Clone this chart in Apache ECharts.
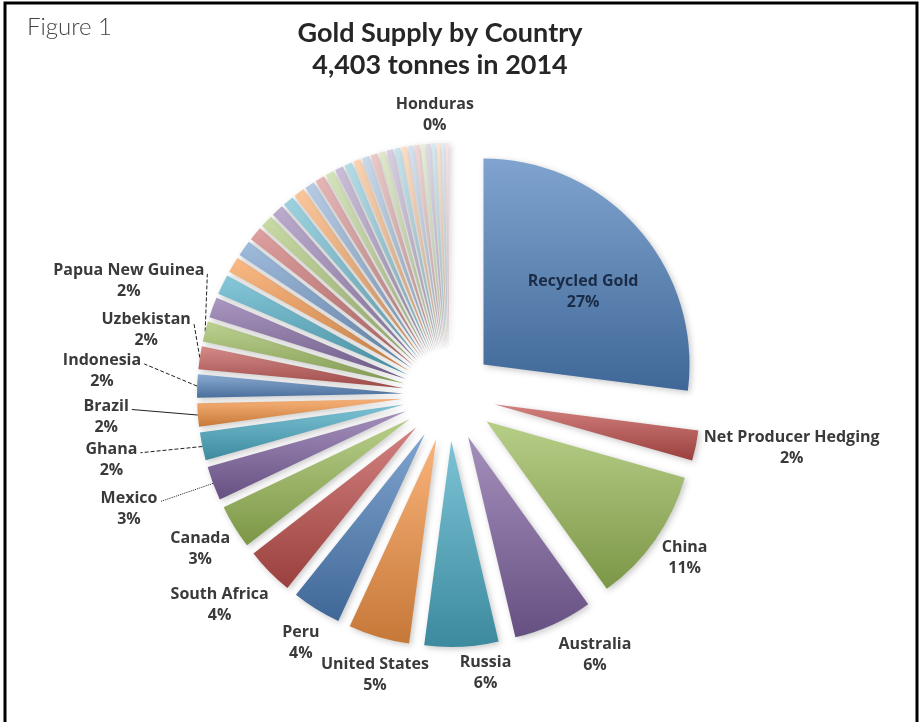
<!DOCTYPE html>
<html>
<head>
<meta charset="utf-8">
<script src="https://cdn.jsdelivr.net/npm/echarts@6/dist/echarts.min.js"></script>
<style>
html, body { margin: 0; padding: 0; background: #fff; }
#chart { width: 923px; height: 722px; }
</style>
</head>
<body>
<div id="chart"></div>
<script>
// supply in tonnes, clockwise from 12 o'clock
var names = ['Recycled Gold', 'Net Producer Hedging', 'China', 'Australia', 'Russia', 'United States',
	'Peru', 'South Africa', 'Canada', 'Mexico', 'Ghana', 'Brazil', 'Indonesia', 'Uzbekistan', 'Papua New Guinea',
	'Kazakhstan', 'Argentina', 'Mali', 'Colombia', 'Tanzania', 'Philippines', 'Chile', 'Burkina Faso', 'Sudan',
	'Kyrgyzstan', 'Dominican Republic', 'Suriname', 'Guinea', 'Zimbabwe', 'Mongolia', 'Ecuador', "Cote d'Ivoire",
	'Bolivia', 'Nicaragua', 'Guyana', 'Finland', 'Saudi Arabia', 'Turkey', 'Egypt', 'Fiji', 'Ethiopia', 'Laos',
	'Sweden', 'Honduras'];
var tonnes = [1190, 105, 470, 274, 255, 211,
	170, 165, 152, 118, 96, 81, 80, 79, 70,
	70, 69, 55, 55, 48, 44, 42, 38, 38,
	34, 33, 30, 29, 27, 26, 25, 24,
	23, 22, 20, 19, 18, 17, 16, 15, 14, 13,
	12, 11];
var TOTAL = 4403;

// office accent colours, paler with every round
var accents = ['#4F81BD', '#C0504D', '#9BBB59', '#8064A2', '#4BACC6', '#F79646'];
var tintLevels = [0, 0, 0.08, 0.25, 0.42, 0.56, 0.68, 0.78];

function mix(hex, target, t) {
	var a = parseInt(hex.slice(1), 16), b = parseInt(target.slice(1), 16);
	var r = Math.round(((a >> 16) & 255) * (1 - t) + ((b >> 16) & 255) * t);
	var g = Math.round(((a >> 8) & 255) * (1 - t) + ((b >> 8) & 255) * t);
	var bl = Math.round((a & 255) * (1 - t) + (b & 255) * t);
	return '#' + ((1 << 24) + (r << 16) + (g << 8) + bl).toString(16).slice(1);
}

// label placement per slice: line lengths + a nudge (dx, dy) after layout
var labelCfg = {
	'Recycled Gold': { inside: true, dx: 20, dy: -3 },
	'Net Producer Hedging': { len: 4, len2: 0, dx: 0, dy: 2 },
	'China': { len: 8, len2: 0, dx: -4, dy: 13 },
	'Australia': { len: 22, len2: 0, dx: -8, dy: 11 },
	'Russia': { len: 24, len2: 0, dx: -7, dy: 2 },
	'United States': { len: 28, len2: 0, dx: 62, dy: 11 },
	'Peru': { len: 30, len2: 0, dx: 23, dy: 8 },
	'South Africa': { len: 22, len2: 0, dx: 19, dy: 18 },
	'Canada': { len: 12, len2: 0, dx: 10, dy: 16 },
	'Mexico': { len: 6, len2: 40, line: 'dotted', dx: -6, dy: 23 },
	'Ghana': { len: 6, len2: 50, line: 'dashed', dx: -5, dy: 12 },
	'Brazil': { len: 6, len2: 50, line: 'solid', dx: -9, dy: 1 },
	'Indonesia': { len: 6, len2: 40, line: 'dashed', dx: -6, dy: -15 },
	'Uzbekistan': { len: 6, len2: 10, line: 'dashed', dx: 11, dy: -27 },
	'Papua New Guinea': { len: 6, len2: 10, line: 'dashed', dx: 19, dy: -49 },
	'Honduras': { len: 24, len2: 0, dx: 31, dy: -4 }
};

var data = [];
for (var i = 0; i < names.length; i++) {
	var c = mix(accents[i % 6], '#FFFFFF', tintLevels[Math.floor(i / 6)]);
	var item = {
		name: names[i],
		value: tonnes[i],
		selected: true,
		itemStyle: {
			color: new echarts.graphic.LinearGradient(0, 0, 0, 1, [
				{ offset: 0, color: mix(c, '#FFFFFF', 0.28) },
				{ offset: 1, color: mix(c, '#000000', 0.2) }
			])
		}
	};
	var cfg = labelCfg[names[i]];
	if (!cfg) {
		item.label = { show: false };
		item.labelLine = { show: false };
	} else if (cfg.inside) {
		item.label = { show: true, position: 'inside', color: '#1B2B45' };
		item.labelLine = { show: false };
	} else {
		item.label = { show: true, position: 'outside' };
		item.labelLine = {
			show: !!cfg.line,
			length: cfg.len,
			length2: cfg.len2,
			lineStyle: { color: '#222', width: 1, type: cfg.line || 'solid' }
		};
	}
	data.push(item);
}

var chart = echarts.init(document.getElementById('chart'));
chart.setOption({
	backgroundColor: '#fff',
	animation: false,
	title: {
		text: 'Gold Supply by Country\n4,403 tonnes in 2014',
		left: 435,
		top: 12,
		textAlign: 'center',
		textStyle: {
			fontFamily: 'Lato',
			fontSize: 27,
			fontWeight: 'bold',
			color: '#262626',
			lineHeight: 32
		}
	},
	graphic: [
		{
			type: 'rect',
			shape: { x: 5, y: 3, width: 912, height: 740 },
			style: { fill: 'none', stroke: '#000', lineWidth: 3 },
			silent: true
		},
		{
			type: 'text',
			left: 27,
			top: 15,
			style: { text: 'Figure 1', fontFamily: 'Lato', fontSize: 24, fontWeight: 300, fill: '#444' },
			silent: true
		}
	],
	series: [{
		type: 'pie',
		center: [449, 395],
		radius: 206,
		startAngle: 90,
		clockwise: true,
		selectedMode: 'multiple',
		selectedOffset: 46,
		avoidLabelOverlap: false,
		emphasis: { disabled: true },
		select: { itemStyle: { borderWidth: 0 } },
		itemStyle: {
			borderWidth: 0,
			shadowBlur: 6,
			shadowOffsetX: 2,
			shadowOffsetY: 2,
			shadowColor: 'rgba(0,0,0,0.22)'
		},
		label: {
			fontFamily: 'Open Sans',
			fontSize: 16,
			fontWeight: 'bold',
			color: '#3a3a3a',
			lineHeight: 21,
			distanceToLabelLine: 4,
			formatter: function (p) {
				return p.name + '\n' + Math.round(p.value / TOTAL * 100) + '%';
			}
		},
		// centre both lines of each label, nudge it, and run leaders to the first line
		labelLayout: function (p) {
			var cfg = labelCfg[names[p.dataIndex]] || {};
			var w = p.labelRect.width;
			var nx = cfg.dx || 0, ny = cfg.dy || 0;
			var side = p.align;
			if (side !== 'left' && side !== 'right' && side !== 'center') {
				side = (p.labelRect.x + w / 2 > p.rect.x + p.rect.width / 2) ? 'left' : 'right';
			}
			if (cfg.inside) side = 'center';
			var shift = side === 'right' ? -w / 2 : (side === 'left' ? w / 2 : 0);
			var out = { hideOverlap: false, dx: shift + nx, dy: ny, align: 'center' };
			var pts = p.labelLinePoints;
			if (cfg.line && pts) {
				out.labelLinePoints = [pts[0], [pts[2][0] - 1 + nx, pts[2][1] + ny - 7]];
			}
			return out;
		},
		data: data
	}]
});
</script>
</body>
</html>
